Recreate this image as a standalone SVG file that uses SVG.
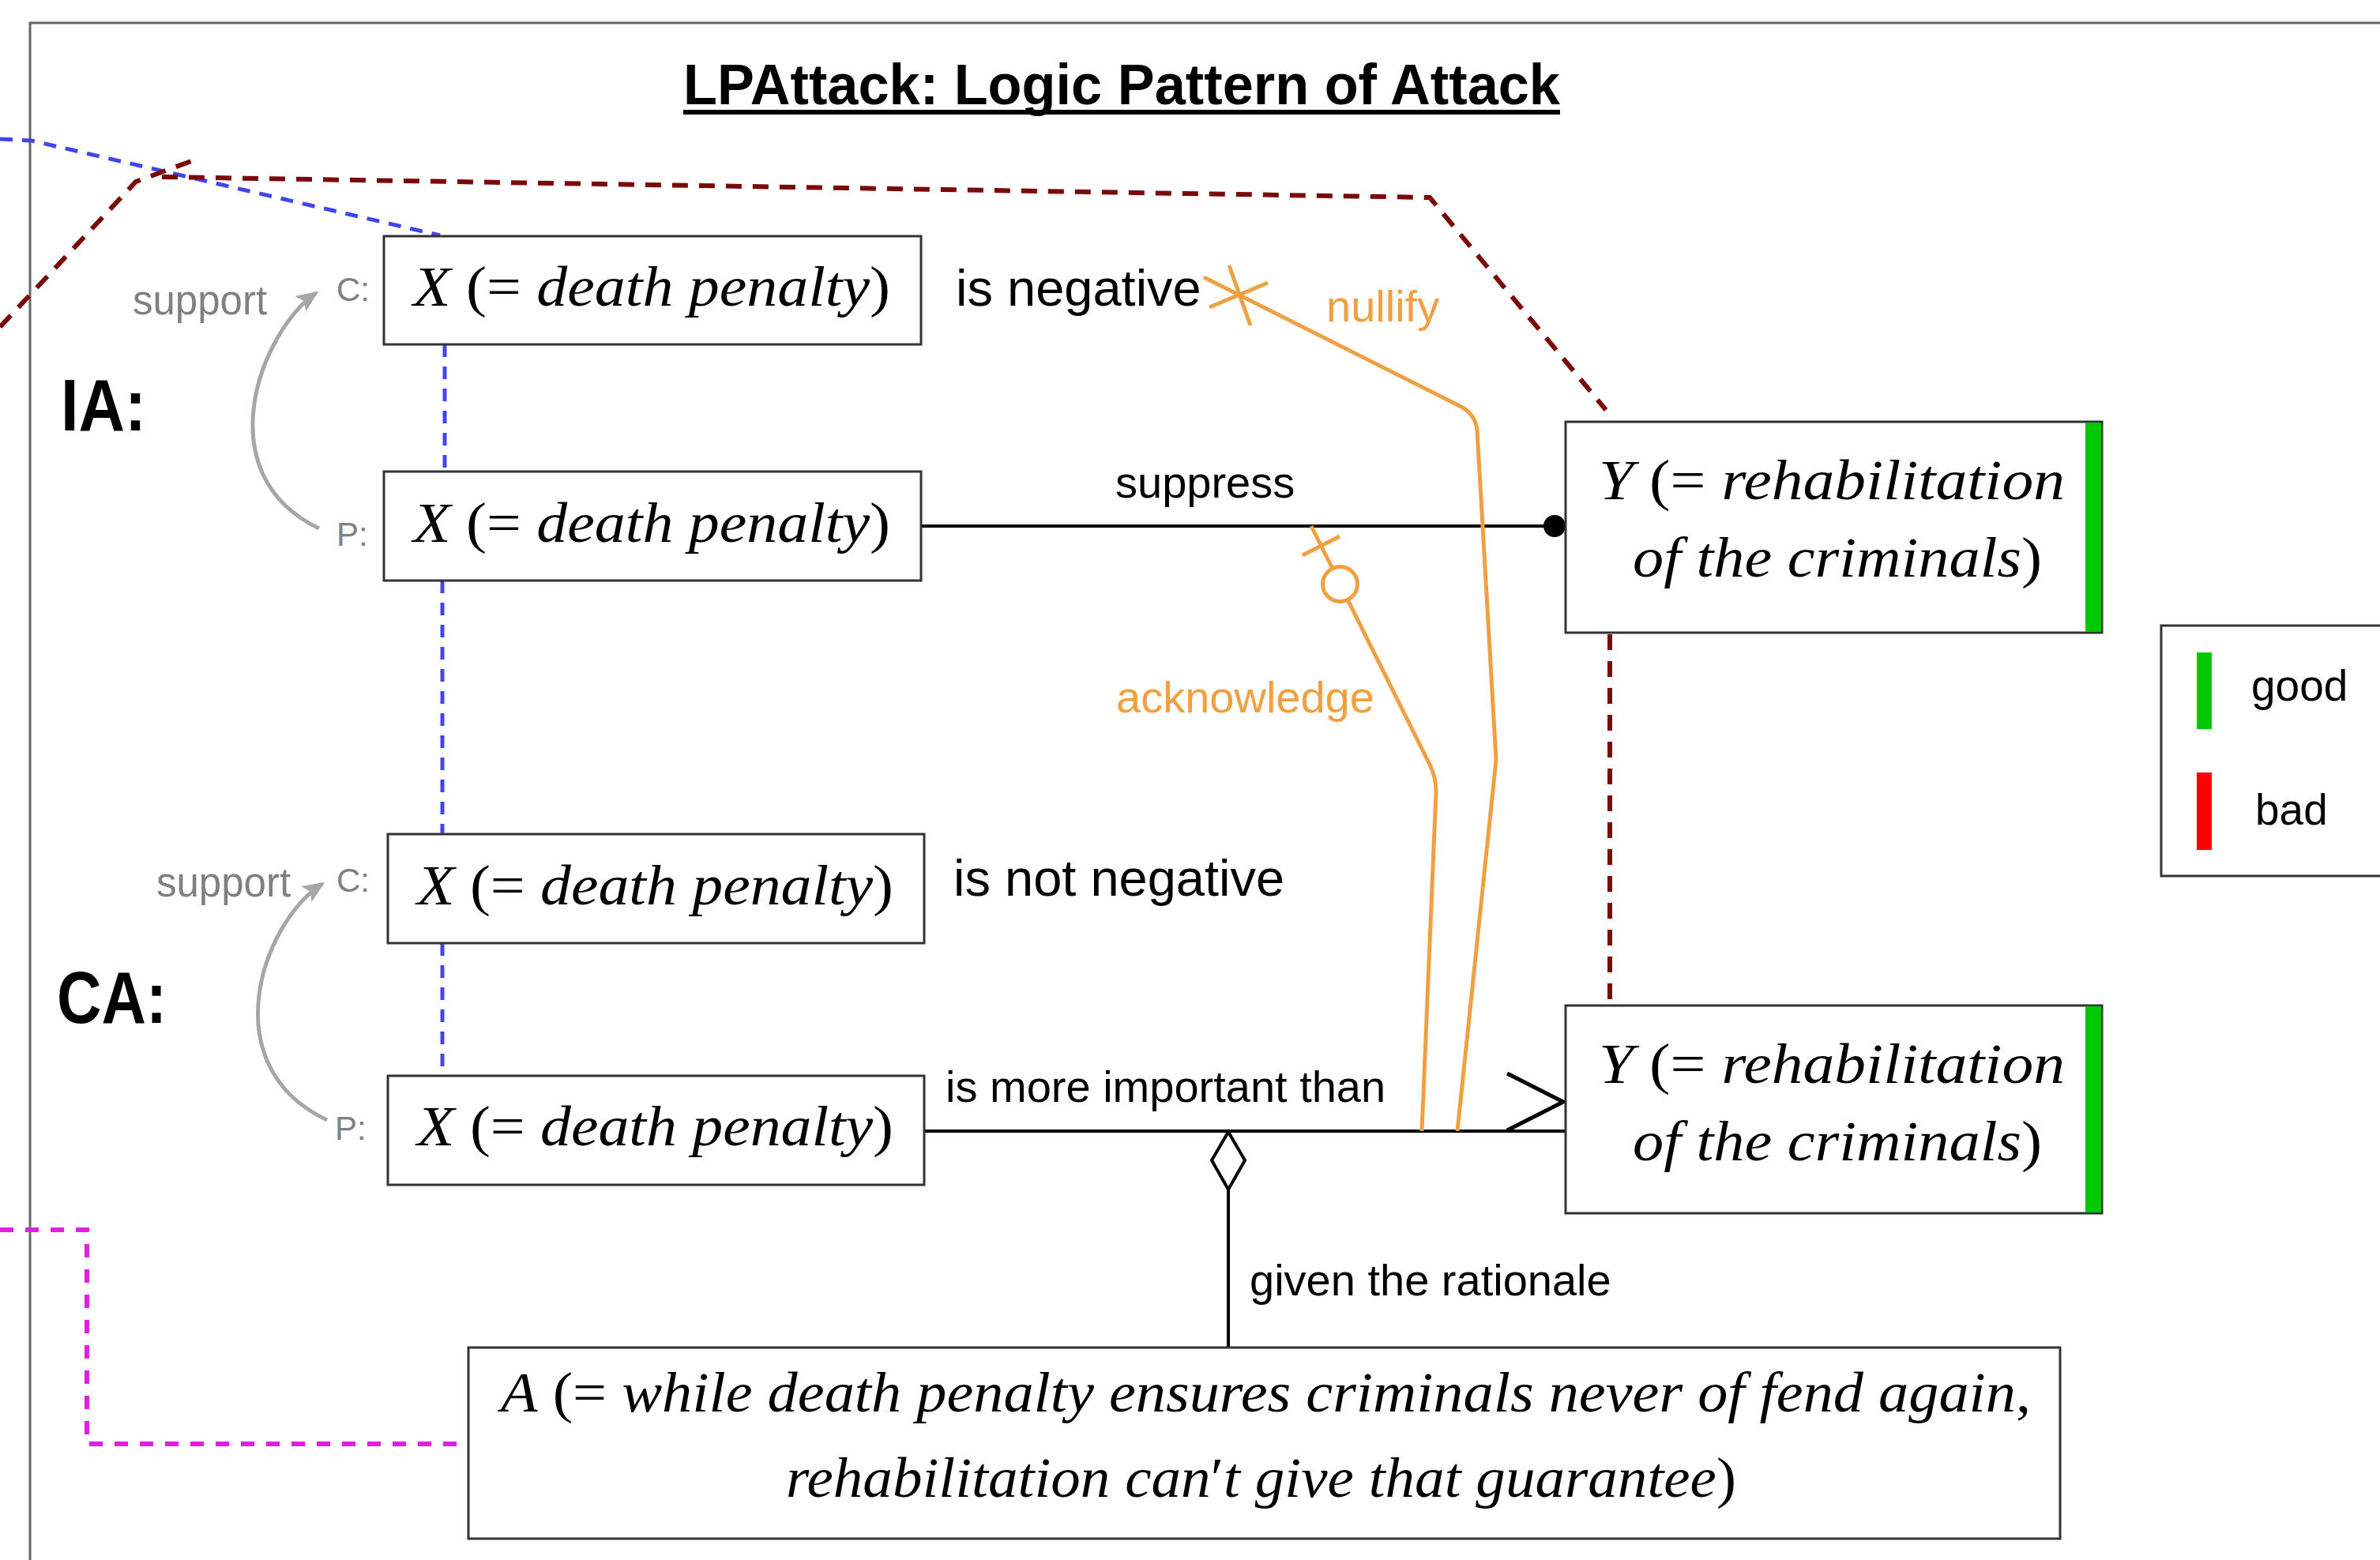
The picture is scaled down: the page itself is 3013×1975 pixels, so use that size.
<svg xmlns="http://www.w3.org/2000/svg" width="3013" height="1975" viewBox="0 0 3013 1975">
<style>
  .box{fill:#fff;stroke:#333;stroke-width:3}
  .math{font-family:"Liberation Serif","Times New Roman",serif;font-size:72px;fill:#000}
  .it{font-style:italic}
  .sans{font-family:"Liberation Sans",Arial,Helvetica,sans-serif}
  .lbl{font-family:"Liberation Sans",Arial,Helvetica,sans-serif;font-size:56px;fill:#000}
  .big{font-family:"Liberation Sans",Arial,Helvetica,sans-serif;font-size:65px;fill:#000}
  .olbl{font-family:"Liberation Sans",Arial,Helvetica,sans-serif;font-size:56px;fill:#F0A040}
  .glbl{font-family:"Liberation Sans",Arial,Helvetica,sans-serif;font-size:51px;fill:#808080}
  .cp{font-family:"Liberation Sans",Arial,Helvetica,sans-serif;font-size:42px;fill:#808080}
  .sec{font-family:"Liberation Sans",Arial,Helvetica,sans-serif;font-size:92px;font-weight:bold;fill:#000}
  .blk{fill:none;stroke:#000;stroke-width:4}
  .org{fill:none;stroke:#F0A040;stroke-width:5;stroke-linejoin:round}
  .sup{fill:none;stroke:#A6A6A6;stroke-width:5}
  .dred{fill:none;stroke:#7A0A0A;stroke-width:6;stroke-dasharray:20 14}
  .dblue{fill:none;stroke:#4444EE;stroke-width:5;stroke-dasharray:16 12}
  .dmag{fill:none;stroke:#E020E0;stroke-width:6;stroke-dasharray:17 15}
  .good{fill:#00C800}
  .bad{fill:#FF0000}
</style>
<defs>
  <marker id="arrGray" markerUnits="userSpaceOnUse" markerWidth="32" markerHeight="28" refX="24" refY="12" orient="auto">
    <path d="M0,0 L28,12 L0,24 L6,12 z" fill="#A6A6A6"/>
  </marker>
</defs>

<rect x="0" y="0" width="3013" height="1975" fill="#fff"/>

<!-- outer frame -->
<path d="M38,1990 L38,29 L3030,29" fill="none" stroke="#666" stroke-width="3"/>

<!-- title -->
<g id="title">
  <text class="sans" x="865" y="132" font-size="72" font-weight="bold" textLength="1110" lengthAdjust="spacingAndGlyphs">LPAttack: Logic Pattern of Attack</text>
  <rect x="865" y="139" width="1110" height="6" fill="#000"/>
</g>

<!-- section labels -->
<text class="sec" x="77" y="545" textLength="108" lengthAdjust="spacingAndGlyphs">IA:</text>
<text class="sec" x="72" y="1295" textLength="139" lengthAdjust="spacingAndGlyphs">CA:</text>

<!-- connectors -->
<g id="connectors">
  <!-- dashed correspondences -->
  <path class="dblue" d="M0,176 L40,178 L557,298"/>
  <path class="dblue" d="M563,436 L563,597"/>
  <path class="dblue" d="M560,735 L560,1056"/>
  <path class="dblue" d="M560,1194 L560,1362"/>
  <path class="dred" d="M0,414 L172,230 L242,204 M205,224 L1810,250 L2033,519"/>
  <path class="dred" d="M2038,803 L2038,1272"/>
  <path class="dmag" d="M0,1557 L110,1557 L110,1828 L593,1828"/>

  <!-- support arrows -->
  <path class="sup" d="M404,669 C260,600 330,420 400,371" marker-end="url(#arrGray)"/>
  <text class="glbl" x="168" y="398">support</text>
  <text class="cp" x="426" y="381">C:</text>
  <text class="cp" x="426" y="691">P:</text>
  <path class="sup" d="M414,1418 C270,1350 330,1170 408,1119" marker-end="url(#arrGray)"/>
  <text class="glbl" x="198" y="1135">support</text>
  <text class="cp" x="426" y="1129">C:</text>
  <text class="cp" x="424" y="1443">P:</text>

  <!-- suppress -->
  <path class="blk" d="M1166,666 L1956,666"/>
  <circle cx="1968" cy="666" r="14" fill="#000"/>
  <text class="lbl" x="1412" y="630">suppress</text>

  <!-- is more important than -->
  <path class="blk" d="M1170,1432 L1982,1432"/>
  <path d="M1908,1359 L1979,1395 L1908,1431" fill="none" stroke="#000" stroke-width="5"/>
  <text class="lbl" x="1197" y="1395">is more important than</text>

  <!-- given the rationale -->
  <path class="blk" d="M1555,1506 L1555,1706"/>
  <path d="M1555,1433 L1576,1469 L1555,1506 L1534,1469 Z" fill="#fff" stroke="#000" stroke-width="4"/>
  <text class="lbl" x="1582" y="1640">given the rationale</text>

  <!-- nullify -->
  <path class="org" d="M1845,1432 L1894,962 L1870,545 Q1868,525 1850,515 L1524,351"/>
  <path class="org" d="M1531,389 L1605,358 M1556,336 L1583,412"/>
  <text class="olbl" x="1679" y="407">nullify</text>

  <!-- acknowledge -->
  <path class="org" d="M1800,1432 L1818,1002 Q1818,984 1810,968 L1706,759"/>
  <circle cx="1696.5" cy="739.5" r="22" fill="none" stroke="#F0A040" stroke-width="5"/>
  <path class="org" d="M1687,720 L1660,666 M1649,703 L1696,679"/>
  <text class="olbl" x="1413" y="902">acknowledge</text>
</g>

<!-- nodes -->
<g id="ia-claim">
  <rect class="box" x="486" y="299" width="680" height="137"/>
  <text class="math" x="523" y="387" textLength="604" lengthAdjust="spacingAndGlyphs"><tspan class="it">X</tspan> (= <tspan class="it">death penalty</tspan>)</text>
</g>
<text class="big" x="1210" y="387">is negative</text>

<g id="ia-premise">
  <rect class="box" x="486" y="597" width="680" height="138"/>
  <text class="math" x="523" y="686" textLength="604" lengthAdjust="spacingAndGlyphs"><tspan class="it">X</tspan> (= <tspan class="it">death penalty</tspan>)</text>
</g>

<g id="ca-claim">
  <rect class="box" x="491" y="1056" width="679" height="138"/>
  <text class="math" x="528" y="1145" textLength="603" lengthAdjust="spacingAndGlyphs"><tspan class="it">X</tspan> (= <tspan class="it">death penalty</tspan>)</text>
</g>
<text class="big" x="1207" y="1134">is not negative</text>

<g id="ca-premise">
  <rect class="box" x="491" y="1362" width="679" height="138"/>
  <text class="math" x="528" y="1450" textLength="603" lengthAdjust="spacingAndGlyphs"><tspan class="it">X</tspan> (= <tspan class="it">death penalty</tspan>)</text>
</g>

<g id="ia-y">
  <rect class="box" x="1982" y="534" width="679" height="267"/>
  <rect class="good" x="2640" y="535" width="20" height="265"/>
  <text class="math" x="2024" y="632" textLength="590" lengthAdjust="spacingAndGlyphs"><tspan class="it">Y</tspan> (= <tspan class="it">rehabilitation</tspan></text>
  <text class="math" x="2067" y="730" textLength="518" lengthAdjust="spacingAndGlyphs"><tspan class="it">of the criminals</tspan>)</text>
</g>

<g id="ca-y">
  <rect class="box" x="1982" y="1273" width="679" height="263"/>
  <rect class="good" x="2640" y="1274" width="20" height="261"/>
  <text class="math" x="2024" y="1371" textLength="590" lengthAdjust="spacingAndGlyphs"><tspan class="it">Y</tspan> (= <tspan class="it">rehabilitation</tspan></text>
  <text class="math" x="2067" y="1469" textLength="518" lengthAdjust="spacingAndGlyphs"><tspan class="it">of the criminals</tspan>)</text>
</g>

<g id="rationale">
  <rect class="box" x="593" y="1706" width="2015" height="242"/>
  <text class="math" x="634" y="1787" textLength="1937" lengthAdjust="spacingAndGlyphs"><tspan class="it">A</tspan> (= <tspan class="it">while death penalty ensures criminals never of fend again</tspan>,</text>
  <text class="math" x="995" y="1895" textLength="1203" lengthAdjust="spacingAndGlyphs"><tspan class="it">rehabilitation can</tspan>′<tspan class="it">t give that guarantee</tspan>)</text>
</g>

<g id="legend">
  <path d="M3030,792 L2736,792 L2736,1109 L3030,1109" fill="#fff" stroke="#333" stroke-width="3"/>
  <rect class="good" x="2781" y="826" width="19" height="97"/>
  <text class="sans" x="2850" y="887" font-size="55" fill="#000">good</text>
  <rect class="bad" x="2781" y="978" width="19" height="98"/>
  <text class="sans" x="2855" y="1044" font-size="55" fill="#000">bad</text>
</g>
</svg>
